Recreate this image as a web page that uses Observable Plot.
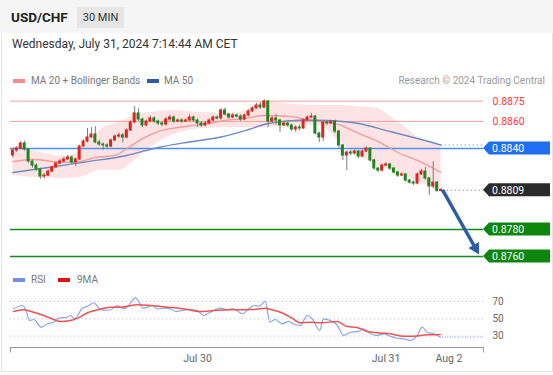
<!DOCTYPE html>
<html><head><meta charset="utf-8">
<script src="https://cdn.jsdelivr.net/npm/d3@7"></script>
<script src="https://cdn.jsdelivr.net/npm/@observablehq/plot@0.6"></script>
<style>
body{margin:0;width:553px;height:375px;background:#fff;font-family:Roboto,"Liberation Sans",Arial,sans-serif;overflow:hidden;position:relative}
.abs{position:absolute;white-space:nowrap}
#frame{position:absolute;left:1px;top:0;width:550px;height:371px;border:1px solid #e4e4e4;border-top:none}
#hdr{position:absolute;left:0;top:0;width:553px;height:33px;background:#f5f5f5}
.sw{position:absolute;width:12px;height:4px}
.lg{font-size:10px;color:#777}
svg{position:absolute;left:0;overflow:visible}
</style></head><body>
<div id="frame"></div>
<div id="hdr"></div>
<div class="abs" style="left:11px;top:9px;font-size:13.5px;font-weight:bold;color:#222">USD/CHF</div>
<div class="abs" style="left:77px;top:7px;width:47px;height:21px;background:#e6e6e6;font-size:11px;color:#333;line-height:21px;text-align:center">30 MIN</div>
<div class="abs" style="left:12px;top:37px;font-size:12px;color:#333">Wednesday, July 31, 2024 7:14:44 AM CET</div>
<div class="sw" style="left:13px;top:79px;background:#f88c8c"></div>
<div class="abs lg" style="left:31px;top:75px">MA 20 + Bollinger Bands</div>
<div class="sw" style="left:147px;top:79px;background:#2d5ca6"></div>
<div class="abs lg" style="left:164px;top:75px">MA 50</div>
<div class="abs lg" style="right:8px;top:75px;color:#9a9a9a">Research © 2024 Trading Central</div>
<div class="sw" style="left:13px;top:278px;background:#6f8fe6"></div>
<div class="abs lg" style="left:31px;top:274px">RSI</div>
<div class="sw" style="left:58px;top:278px;background:#e81010"></div>
<div class="abs lg" style="left:77px;top:274px">9MA</div>
<script>
// ---- candle data (30-min candles, Jul 29 00:30 .. Jul 31 07:00) ----
const open = [0.88348,0.88385,0.88399,0.88436,0.88392,0.88303,0.88273,0.88244,0.88192,0.88199,
0.88229,0.88259,0.88288,0.88303,0.88318,0.88333,0.88296,0.88318,0.88414,0.88451,
0.88481,0.88503,0.88444,0.88429,0.88422,0.88414,0.88459,0.88488,0.88496,0.88481,
0.88533,0.88592,0.88659,0.88614,0.88570,0.88599,0.88622,0.88599,0.88585,0.88577,
0.88614,0.88629,0.88599,0.88607,0.88599,0.88607,0.88629,0.88607,0.88585,0.88570,
0.88585,0.88607,0.88629,0.88622,0.88681,0.88651,0.88629,0.88644,0.88636,0.88614,
0.88644,0.88674,0.88696,0.88718,0.88703,0.88748,0.88599,0.88622,0.88607,0.88570,
0.88585,0.88570,0.88540,0.88555,0.88548,0.88607,0.88629,0.88636,0.88511,0.88481,
0.88592,0.88585,0.88599,0.88525,0.88422,0.88347,0.88370,0.88362,0.88377,0.88340,
0.88377,0.88399,0.88311,0.88251,0.88236,0.88273,0.88281,0.88251,0.88222,0.88199,
0.88207,0.88162,0.88147,0.88140,0.88207,0.88229,0.88177,0.88118,0.88147,0.88085];
const close = [0.88385,0.88399,0.88436,0.88392,0.88303,0.88273,0.88244,0.88192,0.88199,0.88229,
0.88259,0.88288,0.88303,0.88318,0.88333,0.88296,0.88318,0.88414,0.88451,0.88481,
0.88503,0.88444,0.88429,0.88422,0.88414,0.88459,0.88488,0.88496,0.88481,0.88533,
0.88592,0.88659,0.88614,0.88570,0.88599,0.88622,0.88599,0.88585,0.88577,0.88614,
0.88629,0.88599,0.88607,0.88599,0.88607,0.88629,0.88607,0.88585,0.88570,0.88585,
0.88607,0.88629,0.88622,0.88681,0.88651,0.88629,0.88644,0.88636,0.88614,0.88644,
0.88674,0.88696,0.88718,0.88703,0.88748,0.88599,0.88622,0.88607,0.88570,0.88585,
0.88570,0.88540,0.88555,0.88548,0.88607,0.88629,0.88636,0.88511,0.88481,0.88592,
0.88585,0.88599,0.88525,0.88422,0.88347,0.88370,0.88362,0.88377,0.88340,0.88377,
0.88399,0.88311,0.88251,0.88236,0.88273,0.88281,0.88251,0.88222,0.88199,0.88207,
0.88162,0.88147,0.88140,0.88207,0.88229,0.88177,0.88118,0.88147,0.88085,0.88092];
const high = [0.88400,0.88415,0.88450,0.88455,0.88400,0.88315,0.88285,0.88255,0.88215,0.88240,
0.88270,0.88300,0.88320,0.88335,0.88350,0.88345,0.88330,0.88425,0.88465,0.88548,
0.88555,0.88562,0.88460,0.88440,0.88435,0.88470,0.88500,0.88515,0.88510,0.88545,
0.88605,0.88710,0.88695,0.88625,0.88610,0.88640,0.88635,0.88610,0.88600,0.88630,
0.88645,0.88640,0.88620,0.88620,0.88620,0.88650,0.88640,0.88620,0.88600,0.88600,
0.88620,0.88640,0.88640,0.88695,0.88700,0.88660,0.88660,0.88655,0.88650,0.88655,
0.88685,0.88710,0.88735,0.88740,0.88762,0.88755,0.88635,0.88650,0.88615,0.88600,
0.88595,0.88580,0.88570,0.88575,0.88620,0.88640,0.88660,0.88645,0.88520,0.88600,
0.88605,0.88610,0.88610,0.88535,0.88430,0.88380,0.88385,0.88390,0.88385,0.88390,
0.88410,0.88405,0.88320,0.88260,0.88285,0.88295,0.88290,0.88260,0.88230,0.88220,
0.88215,0.88170,0.88160,0.88220,0.88245,0.88260,0.88185,0.88303,0.88155,0.88105];
const low = [0.88330,0.88370,0.88390,0.88380,0.88290,0.88255,0.88230,0.88170,0.88175,0.88190,
0.88220,0.88250,0.88280,0.88295,0.88310,0.88285,0.88265,0.88310,0.88405,0.88440,
0.88475,0.88435,0.88415,0.88385,0.88400,0.88405,0.88450,0.88475,0.88440,0.88470,
0.88525,0.88585,0.88600,0.88555,0.88560,0.88590,0.88585,0.88570,0.88560,0.88565,
0.88600,0.88585,0.88590,0.88585,0.88590,0.88595,0.88595,0.88555,0.88555,0.88560,
0.88575,0.88595,0.88610,0.88610,0.88640,0.88615,0.88620,0.88625,0.88600,0.88605,
0.88635,0.88665,0.88690,0.88690,0.88695,0.88555,0.88590,0.88570,0.88518,0.88560,
0.88555,0.88525,0.88520,0.88530,0.88540,0.88600,0.88620,0.88500,0.88444,0.88452,
0.88570,0.88575,0.88510,0.88400,0.88311,0.88236,0.88345,0.88350,0.88325,0.88330,
0.88370,0.88300,0.88240,0.88220,0.88225,0.88265,0.88240,0.88210,0.88185,0.88190,
0.88150,0.88135,0.88125,0.88130,0.88200,0.88165,0.88051,0.88100,0.88075,0.88078];

// ---- indicators (index positions) ----
const bbIdx   = [0,5,14,18,22,27,31,35,41,48,56,61,65,71,78,83,87,93,96,100,103,109];
const bbUpper = [0.88414,0.88385,0.88340,0.88399,0.88533,0.88592,0.88644,0.88666,0.88681,0.88666,0.88659,0.88703,0.88748,0.88725,0.88718,0.88718,0.88711,0.88696,0.88636,0.88555,0.88481,0.88429];
const bbLower = [0.88200,0.88185,0.88177,0.88192,0.88236,0.88236,0.88311,0.88407,0.88503,0.88548,0.88555,0.88555,0.88555,0.88577,0.88570,0.88459,0.88370,0.88273,0.88236,0.88185,0.88155,0.88088];
const ma20Idx = [0,5,13,17,21,26,29,33,37,41,46,50,54,59,64,71,76,83,88,93,98,103,109];
const ma20Val = [0.88303,0.88318,0.88296,0.88303,0.88333,0.88348,0.88399,0.88473,0.88525,0.88551,0.88570,0.88585,0.88607,0.88622,0.88644,0.88636,0.88607,0.88577,0.88511,0.88451,0.88370,0.88311,0.88222];
const ma50Idx = [0,10,18,29,37,45,53,60,65,74,80,88,96,104,109];
const ma50Val = [0.88222,0.88262,0.88298,0.88348,0.88407,0.88448,0.88485,0.88540,0.88585,0.88611,0.88607,0.88585,0.88525,0.88466,0.88425];

const rsiIdx = [0.2,2.4,3.2,4.3,5.3,7.2,8.8,10.4,11.7,13.8,14.7,15.7,17.7,19,20.6,21.9,23.2,24.9,26.6,28.2,29.5,31.2,33.3,35.5,36.7,38.4,40.1,41.4,43.1,45.2,46.9,48.6,50.3,52.8,54.6,56.2,58.4,60.1,61.3,62.6,64.3,65.4,66.8,68.5,70.2,71.9,73.2,74.9,76.2,78.1,79.1,80.8,82.5,84.2,85.9,88,89.3,91,92.7,94.4,96.1,97.8,99.5,101.2,102.9,104.2,105.4,107.1,108.8];
const rsiVal = [61.5,65.3,61.5,48,49.2,40.3,44.2,46.1,50.7,51.8,53.8,50,62.2,64.5,68.5,62.2,59.6,60.4,65.3,61.5,65.3,74.2,62.2,65.3,61.5,62.2,61.5,58.4,59.6,60.7,59.6,53.8,57.6,62.2,60.7,61.5,55.8,61.5,65.3,64.5,70,46.1,49.2,44.2,46.9,43.1,42.3,53.8,50,36.5,50,48,43.1,30.7,34.5,35.4,38.5,32.7,30.7,32.7,29.9,27.6,26.9,25,30.7,40.3,34.5,32.7,28.8];
const ma9Idx = [0.2,2.7,5.3,7.8,10.4,12.1,14.7,16.5,19,21.6,24.9,27.4,31.7,35,39.4,43.4,47.8,51.1,56.2,61.3,64.3,65.6,68.1,70.7,73.2,75.7,78.3,82.5,85.1,87.6,90.2,92.7,96.1,99.5,102,105.4,108.8];
const ma9Val = [58.4,60.4,57.6,53.8,49.2,46.9,48,50.7,56.9,60.4,63.4,63.4,66.1,65.3,63.4,61.5,58.4,59.6,60.4,60.7,62.2,60.7,57.6,51.8,45.4,46.1,45.4,46.9,41.1,40,35.4,33.9,32.7,29.9,29.9,31.5,31.9];
const rsiLevels = [70, 50, 30];

// ---- levels, ticks ----
const resistances = [0.8875, 0.8860];
const pivot = 0.8840;
const lastPrice = 0.8809;
const supports = [0.8780, 0.8760];
const target = 0.8761;
const tickIdx = [47, 95, 111];
const tickLabels = ["Jul 30", "Jul 31", "Aug 2"];

const X_DOMAIN = [-0.6, 119.8];
const candles = close.map((c, i) => ({i, o: open[i], c, h: high[i], l: low[i]}));
const bb = bbIdx.map((i, k) => ({i, hi: bbUpper[k], lo: bbLower[k]}));
const ma20 = ma20Idx.map((i, k) => ({i, v: ma20Val[k]}));
const ma50 = ma50Idx.map((i, k) => ({i, v: ma50Val[k]}));
const rsi = rsiIdx.map((i, k) => ({i, v: rsiVal[k]}));
const ma9 = ma9Idx.map((i, k) => ({i, v: ma9Val[k]}));
const lastI = candles.length - 1;
const style = {fontFamily: "Roboto, 'Liberation Sans', Arial, sans-serif", fontSize: "10px", color: "#666", background: "transparent", overflow: "visible"};

const main = Plot.plot({
  width: 553, height: 175, marginLeft: 10, marginRight: 70, marginTop: 0, marginBottom: 0,
  style,
  x: {domain: X_DOMAIN, axis: null},
  y: {domain: [0.87533, 0.88829], axis: null},
  marks: [
    Plot.areaY(bb, {x: "i", y1: "lo", y2: "hi", fill: "#fde3e3", curve: "monotone-x"}),
    Plot.ruleY(resistances, {stroke: "#f6a0a0", strokeWidth: 1}),
    Plot.ruleY([pivot], {stroke: "#4f8ef2", strokeWidth: 1.5}),
    Plot.ruleY(supports, {stroke: "#168a16", strokeWidth: 1.6}),
    Plot.line(ma20, {x: "i", y: "v", stroke: "#f39a9a", strokeWidth: 1.3, curve: "monotone-x"}),
    Plot.line(ma50, {x: "i", y: "v", stroke: "#6a8bc6", strokeWidth: 1.4, curve: "monotone-x"}),
    Plot.ruleY([{y: ma50Val[ma50Val.length - 1], x1: ma50Idx[ma50Idx.length - 1], x2: X_DOMAIN[1]}], {y: "y", x1: "x1", x2: "x2", stroke: "#999", strokeDasharray: "1.5,2.5"}),
    Plot.ruleY([{y: lastPrice, x1: lastI + 0.5, x2: X_DOMAIN[1]}], {y: "y", x1: "x1", x2: "x2", stroke: "#999", strokeDasharray: "1.5,2.5"}),
    Plot.ruleX(candles, {x: "i", y1: "l", y2: "h", stroke: "#7c7c7c", strokeWidth: 1}),
    Plot.rect(candles, {x1: d => d.i - 0.38, x2: d => d.i + 0.38, y1: "o", y2: "c", insetTop: -0.5, insetBottom: -0.5,
      fill: d => d.c >= d.o ? "#e0231d" : "#1f861f"}),
    Plot.text(resistances, {x: X_DOMAIN[1], y: d => d, text: d => d.toFixed(4), dx: 9, textAnchor: "start", fill: "#ff3b3b", fontSize: 10.5})
  ]
});
main.style.top = "90px";
document.body.appendChild(main);

// tags and arrow drawn with the plot's own scales
const xs = main.scale("x"), ys = main.scale("y");
const g = d3.select(main).append("g");
const x0 = xs.apply(X_DOMAIN[1]);
function tag(v, color) {
  const y = ys.apply(v), h = 13;
  g.append("path").attr("d", `M${x0},${y}L${x0 + 6},${y - h / 2}H${x0 + 67}V${y + h / 2}H${x0 + 6}Z`).attr("fill", color);
  g.append("text").attr("x", x0 + 9).attr("y", y).attr("dy", "0.36em").attr("fill", "#fff")
    .attr("text-anchor", "start").attr("font-size", 10.5).text(v.toFixed(4));
}
tag(pivot, "#1f6ff2");
tag(lastPrice, "#2b2b2b");
supports.forEach(v => tag(v, "#0d860d"));
{
  const sx = xs.apply(lastI + 0.5), sy = ys.apply(lastPrice);
  const tx = xs.apply(118.8), ty = ys.apply(target);
  const dx = tx - sx, dy = ty - sy, L = Math.hypot(dx, dy), ux = dx / L, uy = dy / L;
  const hl = 11, hw = 6;
  const bx = tx - ux * hl, by = ty - uy * hl;
  g.append("line").attr("x1", sx).attr("y1", sy).attr("x2", bx + ux * 2).attr("y2", by + uy * 2)
    .attr("stroke", "#2c5ea8").attr("stroke-width", 3.5);
  g.append("path").attr("d", `M${tx},${ty}L${bx - uy * hw},${by + ux * hw}L${bx + uy * hw},${by - ux * hw}Z`).attr("fill", "#2c5ea8");
}

const rsiPlot = Plot.plot({
  width: 553, height: 80, marginLeft: 10, marginRight: 70, marginTop: 0, marginBottom: 23,
  style,
  x: {domain: X_DOMAIN, label: null},
  y: {domain: [16.9, 82.6], axis: null},
  marks: [
    Plot.ruleY(rsiLevels, {stroke: "#bdbdbd", strokeDasharray: "1,3"}),
    Plot.text(rsiLevels, {x: X_DOMAIN[1], y: d => d, text: d => String(d), dx: 9, textAnchor: "start", fill: "#666"}),
    Plot.line(rsi, {x: "i", y: "v", stroke: "#8aa5f0", strokeWidth: 1.2, curve: "monotone-x"}),
    Plot.line(ma9, {x: "i", y: "v", stroke: "#f05252", strokeWidth: 1.5, curve: "monotone-x"}),
    Plot.ruleY([{y: rsiVal[rsiVal.length - 1], x1: rsiIdx[rsiIdx.length - 1], x2: X_DOMAIN[1]}], {y: "y", x1: "x1", x2: "x2", stroke: "#8aa5f0", strokeDasharray: "1,1.5"}),
    Plot.ruleY([16.9], {stroke: "#999"}),
    Plot.ruleX(X_DOMAIN, {y1: 16.9, y2: 10.6, stroke: "#999"}),
    Plot.axisX(tickIdx, {tickSize: 0, tickPadding: 7, tickFormat: d => tickLabels[tickIdx.indexOf(d)], fill: "#666", fontSize: 10.5})
  ]
});
rsiPlot.style.top = "290px";
document.body.appendChild(rsiPlot);
</script>
</body></html>
